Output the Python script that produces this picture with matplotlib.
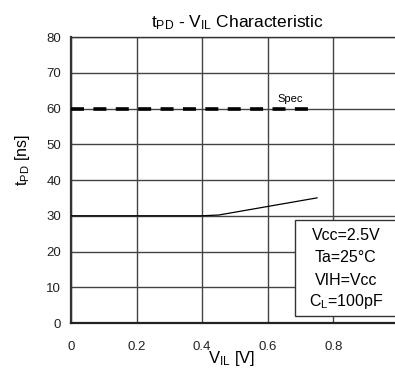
import matplotlib
matplotlib.use('Agg')
import matplotlib.pyplot as plt
from matplotlib.patches import Rectangle

# 数据
lstVil = [0.0, 0.1, 0.2, 0.3, 0.4, 0.45, 0.5, 0.6, 0.7, 0.75]
lstTpd = [30.0, 30.0, 30.0, 30.0, 30.0, 30.2, 31.0, 32.6, 34.2, 35.0]
lstSpecX = [0.0, 0.75]
lstSpecY = [60, 60]
lstXTicks = [0, 0.2, 0.4, 0.6, 0.8]
lstXTickLabels = ['0', '0.2', '0.4', '0.6', '0.8']
lstYTicks = [0, 10, 20, 30, 40, 50, 60, 70, 80]
lstCond = ['Vcc=2.5V', 'Ta=25°C', 'VIH=Vcc', 'C$_L$=100pF']

plt.rcParams['font.family'] = ['Liberation Sans', 'DejaVu Sans']
plt.rcParams['mathtext.default'] = 'regular'

fig = plt.figure(figsize=(3.95, 3.7), dpi=100)
ax = fig.add_axes([0.1797, 0.127, 0.8304, 0.773])

ax.set_xlim(0, 1.0)
ax.set_ylim(0, 80)
ax.set_xticks(lstXTicks)
ax.set_xticklabels(lstXTickLabels)
ax.set_yticks(lstYTicks)
ax.tick_params(length=0, labelsize=9.5, colors='#222222')
ax.tick_params(axis='x', pad=13)
ax.tick_params(axis='y', pad=7)
ax.grid(True, color='#444444', linewidth=1.0)
for sSide in ['top', 'right', 'left']:
	ax.spines[sSide].set_linewidth(1.0)
	ax.spines[sSide].set_color('#333333')
ax.spines['bottom'].set_linewidth(1.6)
ax.spines['bottom'].set_color('#222222')
ax.spines['left'].set_linewidth(1.6)

ax.plot(lstVil, lstTpd, color='black', linewidth=0.9, zorder=3)
ax.plot(lstSpecX, lstSpecY, color='black', linewidth=2.6, dashes=(3.6, 2.6), zorder=3)
ax.text(0.667, 62.7, 'Spec', fontsize=8, ha='center', va='center')

# 标题与坐标轴标签
fig.text(0.6, 0.927, r'$t_{PD}$ - $V_{IL}$ Characteristic', ha='center', va='baseline', fontsize=12.5)
fig.text(0.058, 0.568, r'$t_{PD}$ [ns]', rotation=90, ha='center', va='center', fontsize=11.5)
fig.text(0.585, 0.02, r'$V_{IL}$ [V]', ha='center', va='baseline', fontsize=12)

# 条件框
ax.add_patch(Rectangle((0.683, 2.0), 0.4, 26.8, facecolor='white', edgecolor='#333333',
	linewidth=1.0, zorder=4))
lstCondY = [24.6, 18.2, 12.0, 5.9]
for sCond, fY in zip(lstCond, lstCondY):
	ax.text(0.838, fY, sCond, fontsize=11.5, ha='center', va='center', zorder=5)

fig.savefig('out.png', dpi=100)
